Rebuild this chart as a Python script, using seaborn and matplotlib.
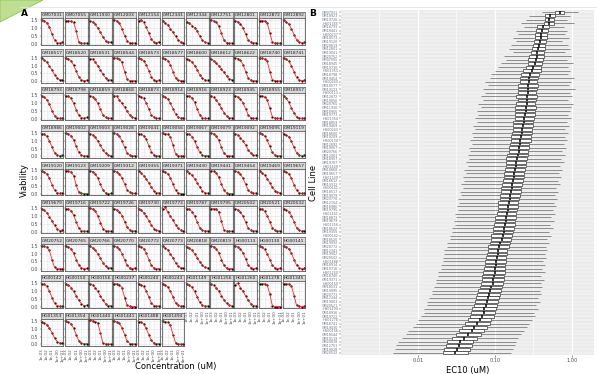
import numpy as np
import pandas as pd
import matplotlib
matplotlib.use("Agg")
import matplotlib.pyplot as plt
import seaborn as sns
from matplotlib.patches import Polygon
from matplotlib.lines import Line2D
from matplotlib.ticker import FixedLocator, NullFormatter

# ---------------- data: panel A (dose-response per cell line) ----------------
cell_lines = [
    "GM07031", "GM07055", "GM11930", "GM12003", "GM12154", "GM12341", "GM12344", "GM12751", "GM12801", "GM12872", "GM12892",
    "GM18517", "GM18520", "GM18531", "GM18544", "GM18573", "GM18577", "GM18600", "GM18612", "GM18622", "GM18740", "GM18741",
    "GM18793", "GM18798", "GM18859", "GM18868", "GM18873", "GM18914", "GM18916", "GM18923", "GM18945", "GM18955", "GM18957",
    "GM18986", "GM19002", "GM19003", "GM19028", "GM19041", "GM19056", "GM19067", "GM19079", "GM19092", "GM19095", "GM19119",
    "GM19120", "GM19123", "GM19209", "GM19312", "GM19355", "GM19371", "GM19430", "GM19441", "GM19454", "GM19469", "GM19657",
    "GM19679", "GM19716", "GM19722", "GM19726", "GM19730", "GM19773", "GM19787", "GM19795", "GM20502", "GM20521", "GM20532",
    "GM20752", "GM20765", "GM20766", "GM20770", "GM20772", "GM20773", "GM20818", "GM20819", "HG00113", "HG00130", "HG00141",
    "HG00142", "HG00150", "HG00156", "HG00237", "HG00240", "HG00243", "HG01149", "HG01256", "HG01260", "HG01278", "HG01345",
    "HG01353", "HG01354", "HG01440", "HG01441", "HG01488", "HG01494",
]

doses_uM = [0.001, 0.003, 0.01, 0.03, 0.1, 0.3, 1, 3, 10]

viability = [
    [1.48, 1.44, 1.33, 1.05, 0.60, 0.22, 0.07, 0.03, 0.09],
    [1.46, 1.45, 1.43, 1.35, 0.80, 0.10, 0.03, 0.02, 0.03],
    [1.45, 1.38, 1.24, 1.00, 0.72, 0.42, 0.20, 0.08, 0.10],
    [1.50, 1.45, 1.30, 0.95, 0.50, 0.18, 0.06, 0.03, 0.04],
    [1.47, 1.52, 1.35, 1.08, 0.66, 0.30, 0.10, 0.04, 0.12],
    [1.42, 1.33, 1.18, 0.96, 0.72, 0.46, 0.25, 0.10, 0.07],
    [1.40, 1.30, 1.15, 1.02, 0.78, 0.48, 0.22, 0.09, 0.05],
    [1.48, 1.45, 1.36, 1.12, 0.66, 0.22, 0.06, 0.03, 0.03],
    [1.45, 1.40, 1.28, 1.00, 0.60, 0.25, 0.08, 0.04, 0.05],
    [1.47, 1.46, 1.44, 1.32, 0.70, 0.10, 0.03, 0.03, 0.03],
    [1.48, 1.40, 1.24, 0.95, 0.58, 0.26, 0.10, 0.05, 0.08],

    [1.46, 1.36, 1.20, 0.98, 0.70, 0.42, 0.20, 0.09, 0.10],
    [1.47, 1.42, 1.30, 1.03, 0.64, 0.28, 0.09, 0.04, 0.06],
    [1.44, 1.40, 1.22, 0.98, 0.72, 0.44, 0.22, 0.10, 0.08],
    [1.48, 1.46, 1.40, 1.20, 0.62, 0.14, 0.04, 0.03, 0.03],
    [1.46, 1.42, 1.30, 1.05, 0.66, 0.28, 0.09, 0.04, 0.07],
    [1.47, 1.43, 1.32, 1.04, 0.60, 0.22, 0.07, 0.03, 0.04],
    [1.44, 1.36, 1.22, 1.00, 0.72, 0.42, 0.20, 0.08, 0.06],
    [1.40, 1.30, 1.16, 0.98, 0.78, 0.56, 0.34, 0.16, 0.10],
    [1.48, 1.44, 1.34, 1.06, 0.62, 0.22, 0.06, 0.03, 0.03],
    [1.47, 1.46, 1.42, 1.28, 0.62, 0.10, 0.03, 0.02, 0.02],
    [1.48, 1.40, 1.26, 1.00, 0.60, 0.24, 0.08, 0.04, 0.05],

    [1.46, 1.38, 1.22, 0.92, 0.52, 0.20, 0.07, 0.03, 0.04],
    [1.47, 1.43, 1.30, 1.00, 0.58, 0.22, 0.08, 0.04, 0.09],
    [1.48, 1.40, 1.26, 0.98, 0.60, 0.26, 0.09, 0.04, 0.05],
    [1.44, 1.45, 1.20, 0.98, 0.74, 0.48, 0.24, 0.10, 0.06],
    [1.47, 1.42, 1.30, 1.02, 0.62, 0.26, 0.09, 0.04, 0.04],
    [1.45, 1.38, 1.25, 1.00, 0.64, 0.30, 0.10, 0.04, 0.06],
    [1.48, 1.44, 1.32, 1.05, 0.62, 0.24, 0.07, 0.03, 0.03],
    [1.46, 1.36, 1.20, 0.96, 0.68, 0.40, 0.18, 0.07, 0.05],
    [1.47, 1.40, 1.28, 1.02, 0.64, 0.26, 0.08, 0.03, 0.04],
    [1.48, 1.46, 1.40, 1.22, 0.66, 0.14, 0.04, 0.03, 0.03],
    [1.45, 1.30, 1.05, 0.70, 0.36, 0.14, 0.05, 0.03, 0.04],

    [1.46, 1.40, 1.28, 1.00, 0.60, 0.24, 0.08, 0.04, 0.08],
    [1.47, 1.43, 1.32, 1.06, 0.64, 0.26, 0.08, 0.03, 0.04],
    [1.45, 1.36, 1.22, 0.98, 0.70, 0.42, 0.20, 0.08, 0.06],
    [1.48, 1.42, 1.28, 0.98, 0.58, 0.22, 0.07, 0.03, 0.05],
    [1.46, 1.42, 1.32, 1.08, 0.68, 0.30, 0.10, 0.04, 0.04],
    [1.47, 1.45, 1.40, 1.24, 0.70, 0.16, 0.04, 0.03, 0.03],
    [1.46, 1.40, 1.26, 0.98, 0.60, 0.26, 0.09, 0.04, 0.06],
    [1.48, 1.44, 1.32, 1.02, 0.58, 0.20, 0.06, 0.03, 0.03],
    [1.44, 1.36, 1.20, 0.98, 0.72, 0.44, 0.22, 0.09, 0.07],
    [1.47, 1.42, 1.30, 1.04, 0.64, 0.26, 0.08, 0.04, 0.05],
    [1.46, 1.38, 1.24, 0.96, 0.58, 0.24, 0.08, 0.04, 0.09],

    [1.46, 1.40, 1.27, 1.00, 0.60, 0.24, 0.08, 0.04, 0.07],
    [1.48, 1.46, 1.40, 1.18, 0.56, 0.12, 0.04, 0.03, 0.03],
    [1.47, 1.43, 1.30, 1.02, 0.62, 0.26, 0.08, 0.03, 0.04],
    [1.46, 1.41, 1.28, 1.02, 0.64, 0.28, 0.10, 0.04, 0.05],
    [1.44, 1.34, 1.18, 0.96, 0.70, 0.44, 0.22, 0.09, 0.06],
    [1.47, 1.42, 1.30, 1.04, 0.62, 0.24, 0.07, 0.03, 0.03],
    [1.45, 1.36, 1.20, 0.98, 0.72, 0.44, 0.20, 0.08, 0.05],
    [1.48, 1.44, 1.33, 1.06, 0.64, 0.24, 0.07, 0.03, 0.03],
    [1.46, 1.40, 1.26, 1.00, 0.62, 0.28, 0.10, 0.04, 0.06],
    [1.44, 1.36, 1.20, 0.98, 0.72, 0.44, 0.22, 0.10, 0.08],
    [1.47, 1.42, 1.28, 1.00, 0.60, 0.24, 0.08, 0.04, 0.05],

    [1.45, 1.36, 1.20, 0.96, 0.68, 0.40, 0.18, 0.07, 0.10],
    [1.47, 1.44, 1.34, 1.06, 0.62, 0.22, 0.06, 0.03, 0.03],
    [1.48, 1.44, 1.32, 1.02, 0.58, 0.20, 0.06, 0.03, 0.03],
    [1.46, 1.40, 1.28, 1.02, 0.64, 0.28, 0.10, 0.04, 0.05],
    [1.45, 1.36, 1.20, 0.98, 0.70, 0.42, 0.20, 0.08, 0.06],
    [1.44, 1.55, 1.22, 0.98, 0.72, 0.44, 0.22, 0.09, 0.07],
    [1.47, 1.42, 1.28, 1.00, 0.62, 0.26, 0.09, 0.04, 0.05],
    [1.47, 1.46, 1.42, 1.26, 0.66, 0.12, 0.03, 0.03, 0.03],
    [1.46, 1.40, 1.26, 0.98, 0.60, 0.24, 0.08, 0.04, 0.05],
    [1.47, 1.43, 1.30, 1.02, 0.62, 0.26, 0.09, 0.04, 0.05],
    [1.46, 1.40, 1.28, 1.02, 0.62, 0.26, 0.09, 0.04, 0.06],

    [1.48, 1.46, 1.40, 1.20, 0.60, 0.12, 0.04, 0.03, 0.03],
    [1.47, 1.42, 1.30, 1.02, 0.62, 0.26, 0.08, 0.04, 0.05],
    [1.46, 1.38, 1.22, 0.98, 0.70, 0.42, 0.20, 0.08, 0.10],
    [1.47, 1.42, 1.28, 1.00, 0.60, 0.24, 0.08, 0.04, 0.08],
    [1.48, 1.44, 1.32, 1.04, 0.62, 0.24, 0.07, 0.03, 0.04],
    [1.46, 1.38, 1.22, 0.98, 0.70, 0.42, 0.20, 0.08, 0.09],
    [1.42, 1.34, 1.20, 0.98, 0.74, 0.48, 0.26, 0.12, 0.08],
    [1.47, 1.44, 1.32, 1.04, 0.62, 0.24, 0.07, 0.03, 0.04],
    [1.46, 1.42, 1.30, 1.04, 0.66, 0.30, 0.10, 0.04, 0.05],
    [1.46, 1.40, 1.26, 1.00, 0.62, 0.26, 0.09, 0.04, 0.06],
    [1.47, 1.42, 1.30, 1.02, 0.62, 0.26, 0.09, 0.04, 0.05],

    [1.47, 1.43, 1.30, 1.00, 0.58, 0.22, 0.07, 0.03, 0.04],
    [1.45, 1.38, 1.22, 0.98, 0.70, 0.42, 0.20, 0.08, 0.09],
    [1.46, 1.38, 1.22, 0.98, 0.70, 0.42, 0.20, 0.08, 0.07],
    [1.47, 1.46, 1.42, 1.22, 0.58, 0.10, 0.03, 0.02, 0.02],
    [1.47, 1.42, 1.30, 1.02, 0.62, 0.24, 0.08, 0.04, 0.05],
    [1.46, 1.40, 1.26, 1.00, 0.62, 0.26, 0.09, 0.04, 0.06],
    [1.45, 1.38, 1.24, 0.98, 0.62, 0.28, 0.10, 0.04, 0.05],
    [1.45, 1.36, 1.20, 0.98, 0.72, 0.44, 0.22, 0.09, 0.06],
    [1.42, 1.50, 1.22, 0.98, 0.70, 0.42, 0.20, 0.08, 0.05],
    [1.48, 1.48, 1.46, 1.40, 0.80, 0.08, 0.02, 0.02, 0.02],
    [1.48, 1.47, 1.44, 1.34, 0.72, 0.10, 0.03, 0.02, 0.03],

    [1.46, 1.38, 1.26, 1.04, 0.74, 0.42, 0.18, 0.08, 0.10],
    [1.47, 1.44, 1.32, 1.04, 0.62, 0.24, 0.08, 0.04, 0.06],
    [1.55, 1.50, 1.46, 1.36, 0.72, 0.10, 0.03, 0.02, 0.02],
    [1.47, 1.44, 1.34, 1.06, 0.62, 0.22, 0.06, 0.03, 0.03],
    [1.46, 1.42, 1.30, 1.02, 0.62, 0.26, 0.08, 0.04, 0.05],
    [1.47, 1.46, 1.40, 1.22, 0.62, 0.12, 0.03, 0.02, 0.02],
]

y_ticks_a = [0.0, 0.5, 1.0, 1.5]
y_ticklabels_a = ["0.0", "0.5", "1.0", "1.5"]
x_ticks_a = [0.001, 0.01, 0.1, 1, 10]
x_ticklabels_a = ["1e-03", "1e-02", "1e-01", "1e+00", "1e+01"]

# ---------------- data: panel B (EC10 box statistics, top to bottom) ----------------
ec10_low = [0.41, 0.28, 0.25, 0.22, 0.24, 0.19, 0.20, 0.17, 0.19, 0.16,
            0.15, 0.17, 0.13, 0.14, 0.12, 0.11, 0.10, 0.09, 0.085, 0.075,
            0.08, 0.07, 0.075, 0.065, 0.07, 0.06, 0.065, 0.058, 0.06, 0.055,
            0.058, 0.052, 0.055, 0.05, 0.052, 0.048, 0.05, 0.046, 0.048, 0.044,
            0.046, 0.042, 0.044, 0.04, 0.042, 0.038, 0.04, 0.036, 0.038, 0.035,
            0.036, 0.033, 0.034, 0.032, 0.033, 0.030, 0.031, 0.029, 0.030, 0.028,
            0.028, 0.026, 0.026, 0.024, 0.024, 0.022, 0.022, 0.021, 0.021, 0.020,
            0.020, 0.018, 0.018, 0.017, 0.017, 0.016, 0.015, 0.015, 0.014, 0.013,
            0.013, 0.012, 0.012, 0.011, 0.010, 0.0095, 0.0085, 0.0075, 0.007, 0.0062,
            0.0055, 0.0052, 0.005, 0.0048]
ec10_q1 = [0.60, 0.45, 0.44, 0.43, 0.35, 0.34, 0.33, 0.33, 0.32, 0.31,
           0.30, 0.29, 0.28, 0.27, 0.27, 0.25, 0.23, 0.22, 0.21, 0.21,
           0.20, 0.20, 0.20, 0.19, 0.20, 0.19, 0.18, 0.18, 0.18, 0.18,
           0.17, 0.17, 0.17, 0.165, 0.16, 0.16, 0.155, 0.15, 0.15, 0.145,
           0.14, 0.14, 0.14, 0.135, 0.13, 0.13, 0.128, 0.125, 0.12, 0.12,
           0.115, 0.115, 0.11, 0.11, 0.108, 0.105, 0.10, 0.10, 0.098, 0.095,
           0.093, 0.09, 0.088, 0.085, 0.082, 0.08, 0.078, 0.077, 0.075, 0.074,
           0.072, 0.070, 0.068, 0.067, 0.065, 0.063, 0.061, 0.059, 0.057, 0.055,
           0.053, 0.051, 0.049, 0.047, 0.044, 0.041, 0.037, 0.034, 0.031, 0.028,
           0.024, 0.023, 0.022, 0.021]
ec10_median = [0.70, 0.52, 0.51, 0.50, 0.42, 0.41, 0.40, 0.395, 0.385, 0.375,
               0.363, 0.355, 0.347, 0.339, 0.331, 0.316, 0.302, 0.288, 0.279, 0.275,
               0.272, 0.269, 0.266, 0.263, 0.260, 0.257, 0.254, 0.251, 0.245, 0.241,
               0.237, 0.232, 0.226, 0.223, 0.219, 0.214, 0.209, 0.205, 0.202, 0.197,
               0.193, 0.190, 0.186, 0.182, 0.178, 0.175, 0.172, 0.168, 0.164, 0.161,
               0.158, 0.155, 0.151, 0.149, 0.146, 0.143, 0.140, 0.137, 0.135, 0.132,
               0.129, 0.126, 0.122, 0.117, 0.114, 0.110, 0.108, 0.106, 0.104, 0.102,
               0.100, 0.099, 0.097, 0.095, 0.093, 0.090, 0.087, 0.084, 0.081, 0.079,
               0.076, 0.073, 0.071, 0.068, 0.063, 0.059, 0.054, 0.050, 0.045, 0.040,
               0.035, 0.034, 0.032, 0.030]
ec10_q3 = [0.79, 0.60, 0.59, 0.58, 0.50, 0.49, 0.47, 0.48, 0.46, 0.45,
           0.44, 0.43, 0.43, 0.42, 0.41, 0.40, 0.39, 0.37, 0.36, 0.35,
           0.36, 0.35, 0.34, 0.35, 0.34, 0.33, 0.34, 0.33, 0.33, 0.32,
           0.31, 0.31, 0.30, 0.30, 0.29, 0.29, 0.28, 0.28, 0.27, 0.265,
           0.26, 0.255, 0.25, 0.245, 0.24, 0.235, 0.23, 0.225, 0.22, 0.215,
           0.21, 0.205, 0.20, 0.20, 0.195, 0.19, 0.185, 0.18, 0.18, 0.175,
           0.17, 0.165, 0.16, 0.155, 0.15, 0.145, 0.142, 0.14, 0.137, 0.135,
           0.133, 0.135, 0.132, 0.13, 0.127, 0.124, 0.12, 0.117, 0.113, 0.11,
           0.107, 0.103, 0.10, 0.097, 0.090, 0.085, 0.078, 0.073, 0.066, 0.059,
           0.052, 0.050, 0.047, 0.045]
ec10_high = [1.20, 0.94, 0.86, 1.05, 0.78, 0.85, 0.80, 0.92, 0.74, 0.88,
             0.95, 0.80, 0.98, 0.85, 1.02, 0.90, 0.95, 0.88, 1.05, 0.98,
             0.92, 1.10, 0.95, 1.00, 0.88, 1.02, 0.97, 0.95, 0.90, 0.98,
             0.86, 0.92, 0.82, 0.88, 0.80, 0.86, 0.78, 0.83, 0.75, 0.80,
             0.72, 0.78, 0.70, 0.75, 0.68, 0.72, 0.65, 0.70, 0.62, 0.66,
             0.60, 0.64, 0.58, 0.62, 0.56, 0.60, 0.54, 0.58, 0.52, 0.56,
             0.50, 0.54, 0.48, 0.50, 0.46, 0.48, 0.44, 0.46, 0.42, 0.45,
             0.41, 0.44, 0.40, 0.43, 0.39, 0.41, 0.38, 0.40, 0.36, 0.38,
             0.34, 0.36, 0.32, 0.33, 0.30, 0.28, 0.26, 0.24, 0.22, 0.20,
             0.19, 0.18, 0.17, 0.16]
# row order of panel B (cell lines sorted by median EC10, highest on top)
order_b = [cell_lines[(i * 29) % len(cell_lines)] for i in range(len(cell_lines))]
x_ticks_b = [0.01, 0.1, 1.0]
x_ticklabels_b = ["0.01", "0.10", "1.00"]

# ---------------- figure ----------------
W, H = 597, 374
fig = plt.figure(figsize=(W / 100, H / 100), dpi=100)
fig.patch.set_facecolor("white")


def axes_px(x0, y0, w, h):
    return fig.add_axes([x0 / W, 1 - (y0 + h) / H, w / W, h / H])


# decorative corner mark and top rule of the scanned page
fig.add_artist(Polygon([[0, 1], [43 / W, 1], [0, 1 - 22 / H]], closed=True,
                       transform=fig.transFigure, facecolor="#BEDF93",
                       edgecolor="#8CC45A", lw=0.6))
fig.add_artist(Line2D([20 / W, 1], [1 - 7 / H, 1 - 7 / H], transform=fig.transFigure,
                      color="#E3E3E3", lw=0.6))

# ---------------- panel A ----------------
n_cols = 11
n_rows = int(np.ceil(len(cell_lines) / n_cols))
col_pitch, panel_w = 24.2, 22.7
row_pitch, strip_h, panel_h = 37.6, 6.5, 26.7
left0, top0 = 40.7, 11.7
grid_col = "#E6E6E6"
edge_col = "#5A5A5A"

for k, name in enumerate(cell_lines):
    r, c = divmod(k, n_cols)
    x0 = left0 + col_pitch * c
    ys = top0 + row_pitch * r
    sax = axes_px(x0, ys, panel_w, strip_h)
    sax.set_facecolor("#D9D9D9")
    sax.set_xticks([])
    sax.set_yticks([])
    for sp in sax.spines.values():
        sp.set_color(edge_col)
        sp.set_linewidth(0.5)
    sax.text(0.5, 0.45, name, transform=sax.transAxes, ha="center", va="center",
             fontsize=3.2, color="#1A1A1A")

    ax = axes_px(x0, ys + strip_h, panel_w, panel_h)
    ax.set_xscale("log")
    df = pd.DataFrame({"dose": doses_uM, "viability": viability[k]})
    sns.scatterplot(data=df, x="dose", y="viability", ax=ax, color="black",
                    s=2.6, linewidth=0, zorder=3)
    sns.lineplot(data=df, x="dose", y="viability", ax=ax, color="#F0282D",
                 lw=0.6, zorder=4)
    ax.set_xlim(10 ** -3.2, 10 ** 1.2)
    ax.set_ylim(-0.08, 1.62)
    ax.set_xlabel("")
    ax.set_ylabel("")
    ax.set_facecolor("white")
    ax.xaxis.set_major_locator(FixedLocator(x_ticks_a))
    ax.xaxis.set_minor_locator(FixedLocator([0.00316, 0.0316, 0.316, 3.16]))
    ax.xaxis.set_minor_formatter(NullFormatter())
    ax.yaxis.set_major_locator(FixedLocator(y_ticks_a))
    ax.yaxis.set_minor_locator(FixedLocator([0.25, 0.75, 1.25]))
    ax.grid(which="major", color=grid_col, lw=0.45)
    ax.grid(which="minor", color="#F0F0F0", lw=0.3)
    ax.set_axisbelow(True)
    for sp in ax.spines.values():
        sp.set_color(edge_col)
        sp.set_linewidth(0.6)
    ax.tick_params(which="major", length=1.0, width=0.3, color="#333333",
                   labelsize=3.4, labelcolor="#4D4D4D", pad=0.8)
    ax.tick_params(which="minor", length=0)
    if c == 0:
        ax.set_yticklabels(y_ticklabels_a)
    else:
        ax.set_yticklabels([])
    last_row_for_col = n_rows - 1 if (n_rows - 1) * n_cols + c < len(cell_lines) else n_rows - 2
    if r == last_row_for_col:
        ax.set_xticklabels(x_ticklabels_a, rotation=90, fontsize=3.0)
    else:
        ax.set_xticklabels([])

fig.text(24 / W, 1 - 180 / H, "Viability", rotation=90, ha="center", va="center",
         fontsize=6)
fig.text(176 / W, 1 - 367 / H, "Concentration (uM)", ha="center", va="center",
         fontsize=6)
fig.text(24 / W, 1 - 13 / H, "A", ha="center", va="center", fontsize=6.5,
         fontweight="bold")

# ---------------- panel B ----------------
stats = np.column_stack([ec10_low, ec10_q1, ec10_median, ec10_q3, ec10_high])
long_b = pd.DataFrame({"cell_line": np.repeat(order_b, 5), "ec10": stats.ravel()})

axb = axes_px(341, 10, 253, 345)
axb.set_facecolor("#EBEBEB")
sns.boxplot(data=long_b, x="ec10", y="cell_line", order=order_b, orient="h",
            log_scale=True, whis=(0, 100), width=0.75, color="white",
            linecolor="#333333", linewidth=0.5, fliersize=0,
            medianprops=dict(color="black", linewidth=1.1),
            whiskerprops=dict(color="#555555", linewidth=0.45),
            capprops=dict(linewidth=0), ax=axb)
axb.set_xlim(0.001, 1.93)
axb.set_ylim(len(order_b) - 1 + 0.6, -0.6)
axb.xaxis.set_major_locator(FixedLocator(x_ticks_b))
axb.set_xticklabels(x_ticklabels_b)
axb.xaxis.set_minor_locator(FixedLocator([0.00316, 0.0316, 0.316]))
axb.xaxis.set_minor_formatter(NullFormatter())
axb.grid(which="major", axis="x", color="white", lw=0.9)
axb.grid(which="minor", axis="x", color="white", lw=0.45)
axb.grid(which="major", axis="y", color="white", lw=0.35)
axb.set_axisbelow(True)
for sp in axb.spines.values():
    sp.set_visible(False)
axb.tick_params(axis="x", which="major", length=1.5, width=0.4, color="#333333",
                labelsize=3.6, labelcolor="#4D4D4D", pad=1)
axb.tick_params(axis="x", which="minor", length=0)
axb.tick_params(axis="y", length=1.2, width=0.3, color="#333333",
                labelsize=2.4, labelcolor="#6E7380", pad=0.8)
axb.set_xlabel("EC10 (uM)", fontsize=6, labelpad=2)
axb.set_ylabel("")
fig.text(313 / W, 1 - 183 / H, "Cell Line", rotation=90, ha="center", va="center",
         fontsize=6)
fig.text(313 / W, 1 - 13 / H, "B", ha="center", va="center", fontsize=6.5,
         fontweight="bold")

fig.savefig("out.png", dpi=100)
